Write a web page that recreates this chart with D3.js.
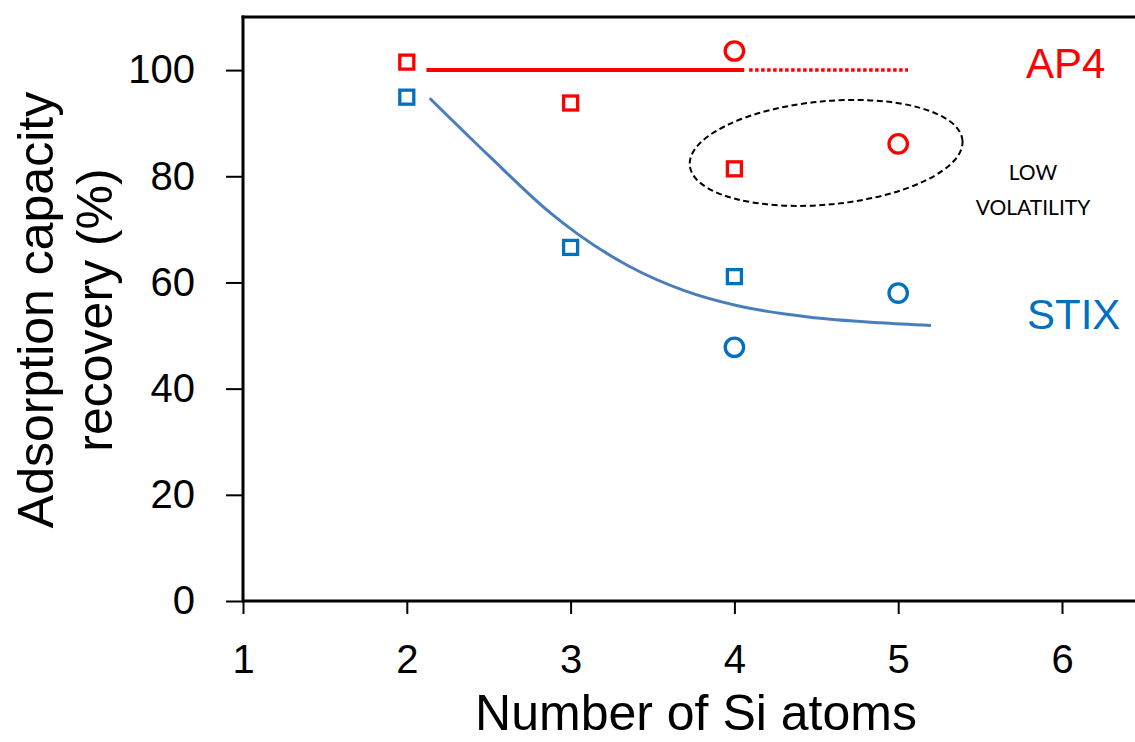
<!DOCTYPE html>
<html>
<head>
<meta charset="utf-8">
<script src="https://cdn.jsdelivr.net/npm/d3@7"></script>
<style>
  html, body { margin: 0; padding: 0; background: #fff; }
  svg { display: block; }
  text { font-family: "Liberation Sans", Arial, sans-serif; }
</style>
</head>
<body>
<div id="chart"></div>
<script>
// tick values
const xTicks = [1, 2, 3, 4, 5, 6];
const yTicks = [0, 20, 40, 60, 80, 100];

// measured points  [Si atoms, recovery %]
const ap4Squares = [[2, 101.5], [3, 93.8], [4, 81.4]];
const ap4Circles = [[4, 103.6], [5, 86.1]];
const stixSquares = [[2, 94.9], [3, 66.6], [4, 61.1]];
const stixCircles = [[4, 47.8], [5, 58.0]];

// guide lines
const ap4Solid = [[2.12, 100], [4.06, 100]];
const ap4Dotted = [[4.09, 100], [5.06, 100]];
const stixCurve = [[2.14, 94.7], [2.51, 83.6], [2.88, 73.0], [3.04, 69.2], [3.36, 63.0],
                   [3.69, 58.5], [4.02, 55.6], [4.45, 53.5], [4.89, 52.4], [5.2, 51.9]];

// dashed ellipse around the low volatility points (centre and half axes in data units)
const lowVolCentre = [4.56, 84.4];
const lowVolHalfAxes = [0.836, 9.73];

const width = 1135;
const height = 742;
const plot = { left: 243, top: 17, bottom: 601 };

const RED = '#ff0000';
const BLUE = '#0070c0';
const CURVE = '#4a7ebb';

const x = d3.scaleLinear().domain([1, 6.5]).range([plot.left, plot.left + 5.5 * 163.8]);
const y = d3.scaleLinear().domain([0, 110]).range([plot.bottom, plot.top]);

const svg = d3.select('#chart').append('svg')
  .attr('width', width)
  .attr('height', height);

// axes
svg.append('g')
  .attr('transform', `translate(0,${plot.bottom})`)
  .call(d3.axisBottom(x).tickValues(xTicks).tickSize(13).tickPadding(31).tickFormat(d3.format('d')))
  .call(g => g.select('.domain').remove())
  .call(g => g.selectAll('.tick line').attr('stroke', '#000').attr('stroke-width', 2))
  .call(g => g.selectAll('.tick text').attr('fill', '#000').attr('font-size', 40)
    .attr('font-family', '"Liberation Sans", Arial, sans-serif'));

svg.append('g')
  .attr('transform', `translate(${plot.left},0)`)
  .call(d3.axisLeft(y).tickValues(yTicks).tickSize(17).tickPadding(31))
  .call(g => g.select('.domain').remove())
  .call(g => g.selectAll('.tick line').attr('stroke', '#000').attr('stroke-width', 2))
  .call(g => g.selectAll('.tick text').attr('fill', '#000').attr('font-size', 40)
    .attr('font-family', '"Liberation Sans", Arial, sans-serif'));

// plot frame (left, bottom, top; right side runs off the page)
const frame = svg.append('g').attr('stroke', '#000').attr('stroke-width', 3).attr('fill', 'none');
frame.append('line').attr('x1', plot.left).attr('x2', plot.left).attr('y1', plot.top - 1.5).attr('y2', plot.bottom + 1.5);
frame.append('line').attr('x1', plot.left).attr('x2', width).attr('y1', plot.bottom).attr('y2', plot.bottom);
frame.append('line').attr('x1', plot.left - 1.5).attr('x2', width).attr('y1', plot.top).attr('y2', plot.top);

// axis titles
svg.append('text')
  .attr('x', 696).attr('y', 730)
  .attr('text-anchor', 'middle')
  .attr('font-size', 50)
  .text('Number of Si atoms');

const yTitle = svg.append('text')
  .attr('transform', 'translate(0,310) rotate(-90)')
  .attr('text-anchor', 'middle')
  .attr('font-size', 50);
yTitle.append('tspan').attr('x', 0).attr('y', 53).text('Adsorption capacity');
yTitle.append('tspan').attr('x', 0).attr('y', 112).text('recovery (%)');

// lines
const line = d3.line().x(d => x(d[0])).y(d => y(d[1]));

svg.append('path')
  .datum(ap4Solid)
  .attr('d', line)
  .attr('fill', 'none')
  .attr('stroke', RED)
  .attr('stroke-width', 4);

svg.append('path')
  .datum(ap4Dotted)
  .attr('d', line)
  .attr('fill', 'none')
  .attr('stroke', RED)
  .attr('stroke-width', 3.5)
  .attr('stroke-dasharray', '3.5 2.5');

svg.append('path')
  .datum(stixCurve)
  .attr('d', line.curve(d3.curveMonotoneX))
  .attr('fill', 'none')
  .attr('stroke', CURVE)
  .attr('stroke-width', 3);

// low volatility ellipse
const ecx = x(lowVolCentre[0]);
const ecy = y(lowVolCentre[1]);
svg.append('ellipse')
  .attr('cx', ecx)
  .attr('cy', ecy)
  .attr('rx', x(lowVolCentre[0] + lowVolHalfAxes[0]) - ecx)
  .attr('ry', ecy - y(lowVolCentre[1] + lowVolHalfAxes[1]))
  .attr('transform', `rotate(-5.3,${ecx},${ecy})`)
  .attr('fill', 'none')
  .attr('stroke', '#000')
  .attr('stroke-width', 2)
  .attr('stroke-dasharray', '6 3.5');

// markers
function squares(data, color) {
  svg.append('g').selectAll('rect')
    .data(data)
    .join('rect')
    .attr('x', d => x(d[0]) - 7)
    .attr('y', d => y(d[1]) - 7)
    .attr('width', 14)
    .attr('height', 14)
    .attr('fill', '#fff')
    .attr('stroke', color)
    .attr('stroke-width', 3.3);
}
function circles(data, color) {
  svg.append('g').selectAll('circle')
    .data(data)
    .join('circle')
    .attr('cx', d => x(d[0]))
    .attr('cy', d => y(d[1]))
    .attr('r', 9.2)
    .attr('fill', '#fff')
    .attr('stroke', color)
    .attr('stroke-width', 3.3);
}
squares(ap4Squares, RED);
circles(ap4Circles, RED);
squares(stixSquares, BLUE);
circles(stixCircles, BLUE);

// series labels
svg.append('text')
  .attr('x', 1026).attr('y', 78)
  .attr('font-size', 42)
  .attr('fill', RED)
  .text('AP4');

svg.append('text')
  .attr('x', 1027).attr('y', 329)
  .attr('font-size', 42)
  .attr('fill', BLUE)
  .text('STIX');

const note = svg.append('text')
  .attr('text-anchor', 'middle')
  .attr('font-size', 21)
  .style('font-family', 'Lato, "Open Sans", sans-serif')
  .attr('fill', '#000');
note.append('tspan').attr('x', 1033).attr('y', 180).text('LOW');
note.append('tspan').attr('x', 1033).attr('y', 215).text('VOLATILITY');
</script>
</body>
</html>
